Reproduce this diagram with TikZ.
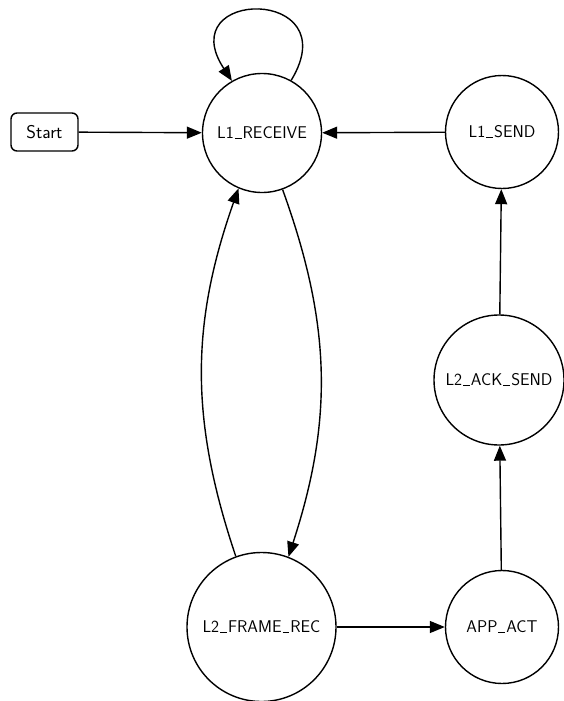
\documentclass[tikz,border=0pt]{standalone}
\usetikzlibrary{arrows.meta}
\newcommand{\us}{\kern0.06em\rule[-0.03em]{0.4em}{0.06em}\kern0.06em}
\begin{document}
\begin{tikzpicture}[x=1pt,y=1pt,
  every node/.style={font=\sffamily\fontsize{17}{20}\selectfont},
  state/.style={circle,draw,line width=1.4pt,inner sep=0pt},
  startbox/.style={rectangle,rounded corners=6pt,draw,line width=1.4pt,minimum width=67pt,minimum height=38pt,inner sep=0pt,font=\sffamily\fontsize{18.5}{22}\selectfont},
  edge/.style={line width=1.4pt,-{Triangle[length=15pt,width=12pt]}}]
\useasboundingbox (0,0) rectangle (563,-701);
\node[startbox] (start) at (44.5,-132) {Start};
\node[state,minimum size=119pt] (l1r) at (262,-133) {L1\us RECEIVE};
\node[state,minimum size=113pt] (l1s) at (502,-132) {L1\us SEND};
\node[state,minimum size=130pt] (l2a) at (499,-380) {L2\us ACK\us SEND};
\node[state,minimum size=149pt] (l2f) at (261.5,-627) {L2\us FRAME\us REC};
\node[state,minimum size=113pt] (app) at (502,-627) {APP\us ACT};
\draw[edge] (start) -- (l1r);
\draw[edge] (l1s) -- (l1r);
\draw[edge] (l2a) -- (l1s);
\draw[edge] (app) -- (l2a);
\draw[edge] (l2f) -- (app);
\draw[edge] (l1r.-70) to[bend left=19] (l2f.69);
\draw[edge] (l2f.110) to[bend left=19] (l1r.-113);
\draw[edge] (l1r.61) .. controls +(57,94) and +(-61,93) .. (l1r.120);
\end{tikzpicture}
\end{document}
